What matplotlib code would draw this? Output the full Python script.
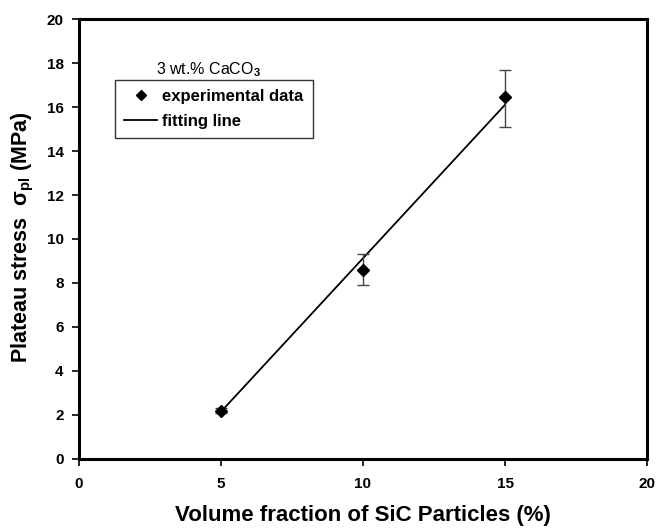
import matplotlib
matplotlib.use("Agg")
import matplotlib.pyplot as plt
from matplotlib.lines import Line2D

plt.rcParams['font.family'] = ['Liberation Sans', 'DejaVu Sans']
plt.rcParams['mathtext.fontset'] = 'custom'
plt.rcParams['mathtext.rm'] = 'Liberation Sans:bold'
plt.rcParams['mathtext.bf'] = 'Liberation Sans:bold'
plt.rcParams['mathtext.it'] = 'Liberation Sans:bold'

# data
sic_frac = [5, 10, 15]
stress = [2.2, 8.6, 16.45]
err_low = [0.12, 0.7, 1.35]
err_high = [0.12, 0.7, 1.25]
fit_x = [5, 15]
fit_y = [2.15, 16.1]

fig = plt.figure(figsize=(6.56, 5.28), dpi=100)
ax = fig.add_axes([0.1204, 0.1307, 0.8659, 0.8333])

ax.plot(fit_x, fit_y, color='black', lw=1.3, zorder=2)
ax.errorbar(sic_frac, stress, yerr=[err_low, err_high], fmt='D', color='black',
            ms=6, ecolor='#444444', elinewidth=1.0, capsize=4, capthick=1.0, zorder=3)

ax.set_xlim(0, 20)
ax.set_ylim(0, 20)
ax.set_xticks([0, 5, 10, 15, 20])
ax.set_yticks(range(0, 21, 2))
ax.tick_params(direction='out', length=5, width=1.2, labelsize=11)
ax.tick_params(axis='x', pad=8)
ax.tick_params(axis='y', pad=6)
for lab in ax.get_xticklabels() + ax.get_yticklabels():
    lab.set_fontweight('bold')
for sp in ax.spines.values():
    sp.set_linewidth(2.2)

ax.set_xlabel('Volume fraction of SiC Particles (%)', fontsize=16, fontweight='bold', labelpad=10)
ax.set_ylabel(r'Plateau stress  $\sigma_{\mathrm{pl}}$ (MPa)', fontsize=15.5, fontweight='bold')
ax.yaxis.set_label_coords(-0.075, 0.505)

ax.text(0.227, 0.886, r'3 wt.% CaCO$_3$', transform=ax.transAxes, ha='center', va='center', fontsize=11.5)

handles = [Line2D([], [], marker='D', color='black', ls='none', ms=5),
           Line2D([], [], color='black', lw=1.3)]
leg = ax.legend(handles, ['experimental data', 'fitting line'], loc='upper left',
                bbox_to_anchor=(0.063, 0.862), fancybox=False, framealpha=1,
                edgecolor='#333333', prop={'size': 12, 'weight': 'bold'},
                handlelength=2.0, handletextpad=0.3, borderaxespad=0,
                labelspacing=0.62, borderpad=0.55)
leg.get_frame().set_linewidth(1.0)

fig.savefig('out.png', dpi=100)
